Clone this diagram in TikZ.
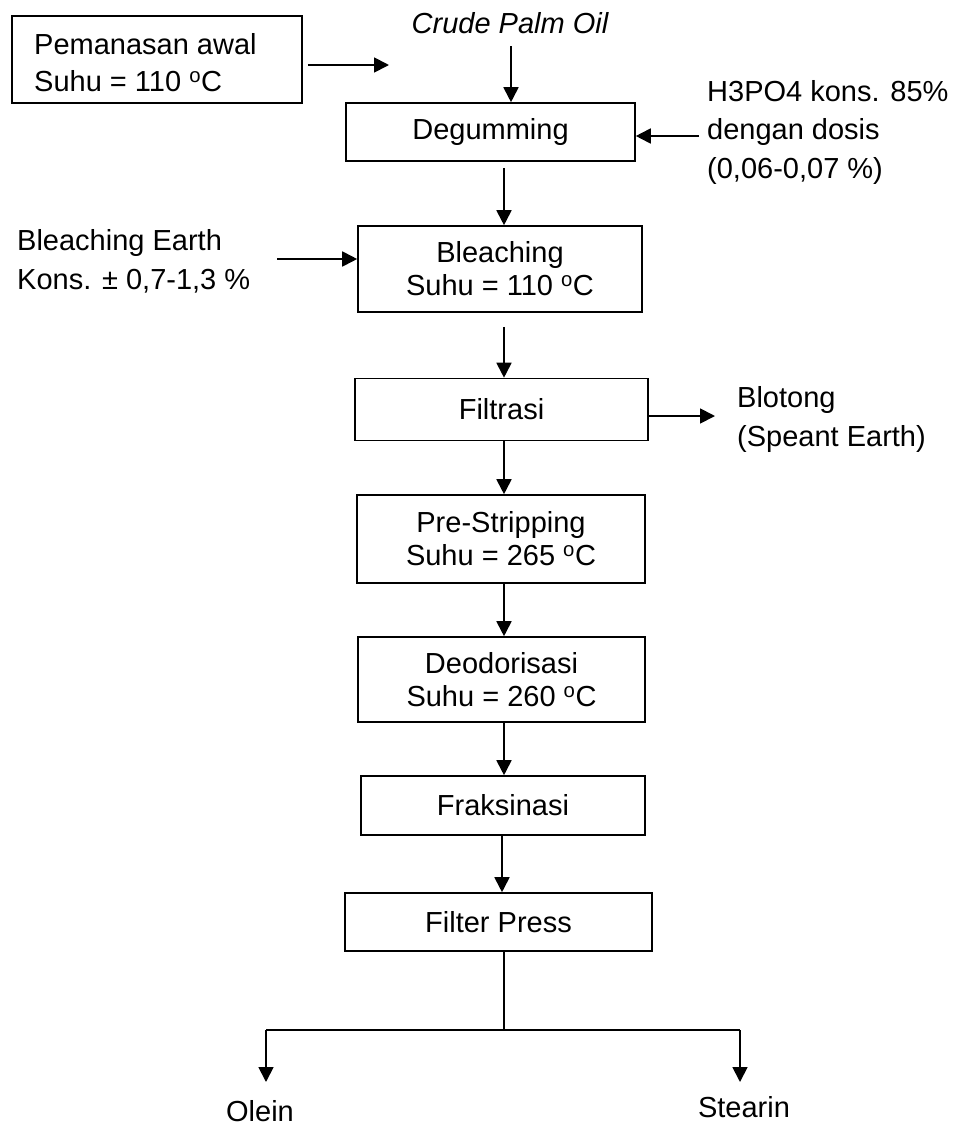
\documentclass[tikz,border=0pt]{standalone}
\usepackage{fontspec}
\setmainfont{Liberation Sans}
\usetikzlibrary{arrows.meta}
\begin{document}
\begin{tikzpicture}[x=1pt,y=-1pt,
  every node/.style={font=\fontsize{29}{36}\selectfont, inner sep=0pt},
  box/.style={draw, line width=1.6pt, align=center, font=\fontsize{29}{33}\selectfont},
  arr/.style={line width=1.8pt, -{Triangle[length=15pt,width=15pt]}},
  ln/.style={line width=1.8pt},
  lbl/.style={align=left, anchor=west}]
\useasboundingbox (0,0) rectangle (956,1130);
% boxes
\node[box, minimum width=290pt, minimum height=87pt] (pem) at (157,59.5) {};
\node[lbl, font=\fontsize{29}{37}\selectfont] (pemtxt) at (34,63) {Pemanasan awal\\Suhu = 110 \textsuperscript{o}C};
\node[box, minimum width=289pt, minimum height=58pt] (deg) at (490.5,132) {Degumming};
\node[box, minimum width=284pt, minimum height=86pt] (ble) at (500,269) {Bleaching\\Suhu = 110 \textsuperscript{o}C};
\node[box, minimum width=293pt, minimum height=62pt] (fil) at (501.5,409.5) {Filtrasi};
\node[box, minimum width=288pt, minimum height=88pt] (pre) at (501,539) {Pre-Stripping\\Suhu = 265 \textsuperscript{o}C};
\node[box, minimum width=287pt, minimum height=85pt] (deo) at (501.5,679.5) {Deodorisasi\\Suhu = 260 \textsuperscript{o}C};
\node[box, minimum width=284pt, minimum height=59pt] (fra) at (503,805.5) {Fraksinasi};
\node[box, minimum width=307pt, minimum height=58pt] (fp) at (498.5,922) {Filter Press};
% labels
\node (cpo) at (510,23) {\itshape Crude Palm Oil};
\node[lbl, font=\fontsize{29}{38.5}\selectfont] (h3) at (707,132) {H3PO4 kons. 85\%\\dengan dosis\\(0,06-0,07 \%)};
\node[lbl, font=\fontsize{29}{39}\selectfont] (be) at (17,261) {Bleaching Earth\\Kons. ± 0,7-1,3 \%};
\node[lbl, font=\fontsize{29}{39}\selectfont] (blot) at (737,419) {Blotong\\(Speant Earth)};
\node (olein) at (260,1111) {Olein};
\node (stearin) at (744,1107) {Stearin};
% helper coordinates
\coordinate (xa) at (504,0);
\coordinate (xb) at (502,0);
\coordinate (pemend) at (389,65);
\coordinate (cpotop) at (511,46);
\coordinate (bestart) at (277,259);
\coordinate (blotend) at (715,416);
\coordinate (split) at (504,1030);
\coordinate (lsplit) at (266,1030);
\coordinate (rsplit) at (740,1030);
\coordinate (lend) at (266,1082);
\coordinate (rend) at (740,1082);
% connectors
\draw[arr] ([xshift=5pt]pem.east |- pemend) -- (pemend);
\draw[arr] (cpotop) -- (cpotop |- deg.north);
\draw[arr] ([xshift=-8pt]h3.west |- 0,136) -- (deg.east |- 0,136);
\draw[arr] ([yshift=-6pt]deg.south -| xa) -- (ble.north -| xa);
\draw[arr] ([yshift=-14pt]ble.south -| xa) -- (fil.north -| xa);
\draw[arr] (bestart) -- (ble.west |- bestart);
\draw[arr] (fil.east |- blotend) -- (blotend);
\draw[arr] (fil.south -| xa) -- (pre.north -| xa);
\draw[arr] (pre.south -| xa) -- (deo.north -| xa);
\draw[arr] (deo.south -| xa) -- (fra.north -| xa);
\draw[arr] (fra.south -| xb) -- (fp.north -| xb);
\draw[ln] (fp.south -| split) -- (split);
\draw[ln] (lsplit) -- (rsplit);
\draw[arr] (lsplit) -- (lend);
\draw[arr] (rsplit) -- (rend);
\end{tikzpicture}
\end{document}
